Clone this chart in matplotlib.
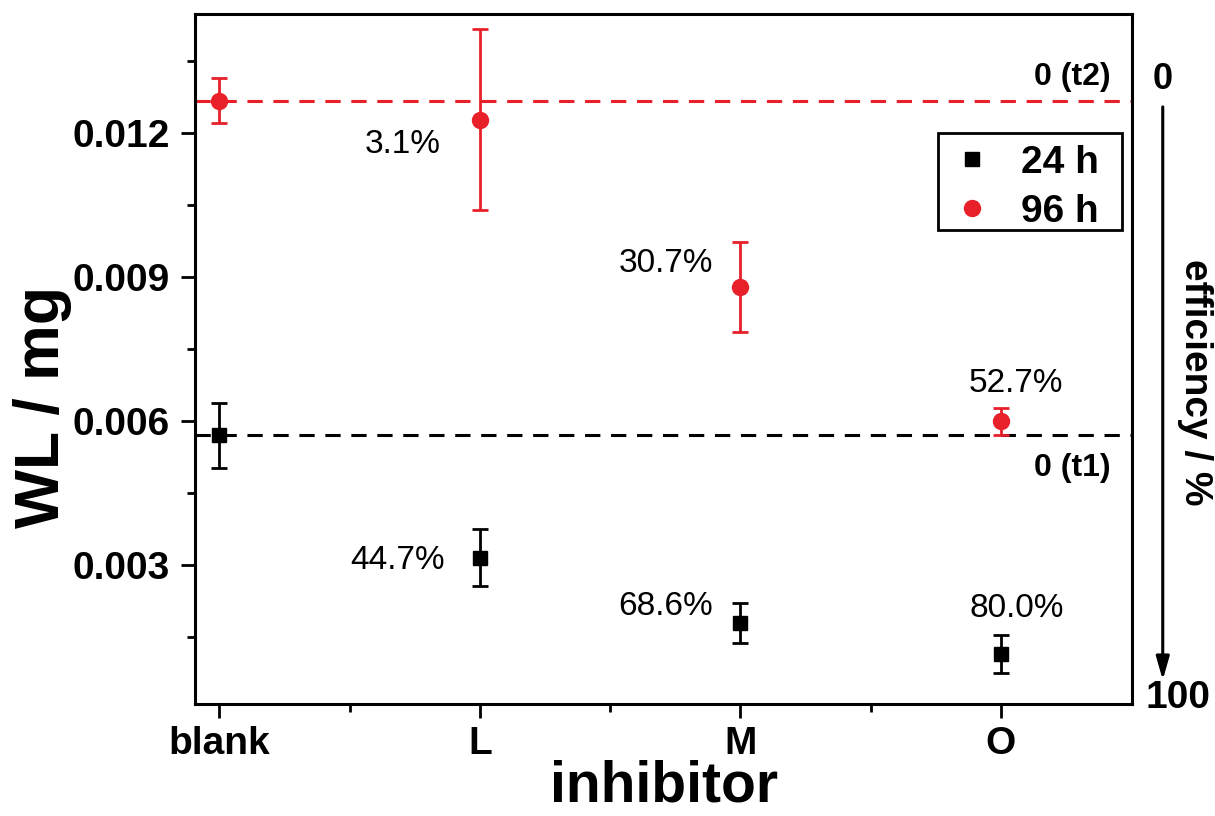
import matplotlib
matplotlib.use("Agg")
import matplotlib.pyplot as plt
from matplotlib.lines import Line2D
from matplotlib.patches import Rectangle
from matplotlib.ticker import FixedLocator, FormatStrFormatter

plt.rcParams['font.family'] = ['Liberation Sans', 'DejaVu Sans']

# Data
inhibitors = ["blank", "L", "M", "O"]
wl_24h = [0.00570, 0.00315, 0.00179, 0.00114]
err_24h = [0.00068, 0.00060, 0.00042, 0.00040]
wl_96h = [0.01267, 0.01228, 0.00879, 0.00599]
err_96h = [0.00047, 0.00188, 0.00094, 0.00028]
eff_24h = ["", "44.7%", "68.6%", "80.0%"]
eff_96h = ["", "3.1%", "30.7%", "52.7%"]

red = "#e8202a"

fig = plt.figure(figsize=(12.15, 8.16), dpi=100)
ax = fig.add_axes([0.1605, 0.1373, 0.7712, 0.8455])

x = list(range(len(inhibitors)))

# Reference lines at the blank values (0 % efficiency)
ax.axhline(wl_24h[0], color="black", lw=2.2, ls=(0, (5, 3.5)), zorder=1)
ax.axhline(wl_96h[0], color=red, lw=2.2, ls=(0, (5, 3.5)), zorder=1)

ax.errorbar(x, wl_24h, yerr=err_24h, fmt="s", color="black", ms=10,
            elinewidth=2, capsize=6, capthick=2, zorder=3)
ax.errorbar(x, wl_96h, yerr=err_96h, fmt="o", color=red, ms=11.5,
            elinewidth=2, capsize=6, capthick=2, zorder=3)

# Efficiency annotations (offsets in points)
offs_24 = [None, (-25, -2, "right", "center"), (-20, 12, "right", "center"),
           (11, 33, "center", "center")]
offs_96 = [None, (-28, -18, "right", "center"), (-20, 17, "right", "center"),
           (11, 27, "center", "center")]
for i in x:
    if eff_24h[i]:
        dx, dy, ha, va = offs_24[i]
        ax.annotate(eff_24h[i], (i, wl_24h[i]), xytext=(dx, dy),
                    textcoords="offset points", ha=ha, va=va, fontsize=24)
    if eff_96h[i]:
        dx, dy, ha, va = offs_96[i]
        ax.annotate(eff_96h[i], (i, wl_96h[i]), xytext=(dx, dy),
                    textcoords="offset points", ha=ha, va=va, fontsize=24)

ax.text(3.422, wl_96h[0] + 0.00050, "0 (t2)", ha="right", va="center",
        fontsize=23, fontweight="bold")
ax.text(3.422, wl_24h[0] - 0.00068, "0 (t1)", ha="right", va="center",
        fontsize=23, fontweight="bold")

ax.set_xlim(-0.094, 3.503)
ax.set_ylim(0.0001, 0.01448)
ax.set_xticks(x)
ax.set_xticklabels(inhibitors)
ax.xaxis.set_minor_locator(FixedLocator([0.5, 1.5, 2.5]))
ax.yaxis.set_major_locator(FixedLocator([0.003, 0.006, 0.009, 0.012]))
ax.yaxis.set_minor_locator(FixedLocator([0.0015, 0.0045, 0.0075, 0.0105, 0.0135]))
ax.yaxis.set_major_formatter(FormatStrFormatter("%.3f"))

ax.tick_params(which="major", length=10, width=2, labelsize=28, pad=8)
ax.tick_params(axis="x", which="major", pad=6)
ax.tick_params(which="minor", length=6, width=2)
for lab in ax.get_xticklabels() + ax.get_yticklabels():
    lab.set_fontweight("bold")
for sp in ax.spines.values():
    sp.set_linewidth(2.2)

ax.set_xlabel("inhibitor", fontsize=41, fontweight="bold")
ax.xaxis.set_label_coords(0.5, -0.080)
ax.set_ylabel("WL / mg", fontsize=45, fontweight="bold")
ax.yaxis.set_label_coords(-0.131, 0.43)

# Legend (marker-only entries) with a separate square frame
handles = [Line2D([], [], ls="none", marker="s", color="black", ms=10),
           Line2D([], [], ls="none", marker="o", color=red, ms=11.5)]
leg = ax.legend(handles, ["24 h", "96 h"], loc="center",
                bbox_to_anchor=(0.8866, 0.7486), borderaxespad=0,
                frameon=False, prop={"size": 28, "weight": "bold"},
                handletextpad=0.76, borderpad=0, labelspacing=0.33,
                handlelength=1.0)
ax.add_patch(Rectangle((0.793, 0.687), 0.1963, 0.1405, transform=ax.transAxes,
                       fill=False, edgecolor="black", lw=2, zorder=4))

# Efficiency scale on the right (0 at top, 100 at bottom)
fig.text(0.957, 0.902, "0", ha="center", va="center", fontsize=26, fontweight="bold")
fig.text(0.9697, 0.1446, "100", ha="center", va="center", fontsize=28, fontweight="bold")
ax.annotate("", xy=(0.957, 0.1667), xytext=(0.957, 0.869),
            xycoords="figure fraction", textcoords="figure fraction",
            arrowprops=dict(arrowstyle="-|>,head_length=1.4,head_width=0.4",
                            color="black", lw=2.2, shrinkA=0, shrinkB=0))
fig.text(0.9835, 0.532, "efficiency / %", ha="center", va="center",
         rotation=-90, fontsize=28, fontweight="bold")

fig.savefig("out.png", dpi=100)
